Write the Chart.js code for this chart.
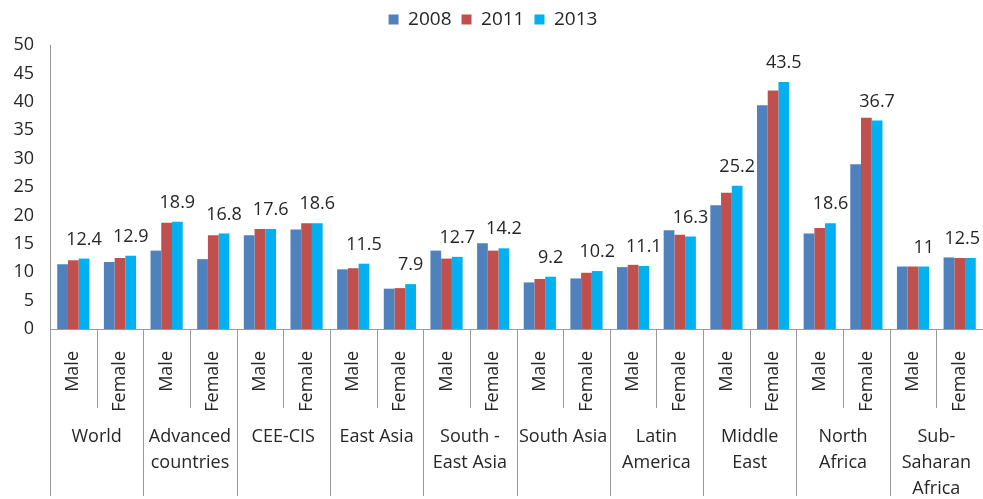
<!DOCTYPE html>
<html>
<head>
<meta charset="utf-8">
<script src="https://cdn.jsdelivr.net/npm/chart.js@4"></script>
<style>
  html, body { margin: 0; padding: 0; background: #fff; }
  #wrap { width: 983px; height: 499px; }
</style>
</head>
<body>
<div id="wrap"><canvas id="c" width="983" height="499"></canvas></div>
<script>
// categories: each region split into Male / Female
const regions = ['World', 'Advanced\ncountries', 'CEE-CIS', 'East Asia', 'South -\nEast Asia',
  'South Asia', 'Latin\nAmerica', 'Middle\nEast', 'North\nAfrica', 'Sub-\nSaharan\nAfrica'];
const sexes = ['Male', 'Female'];
const categories = regions.flatMap(() => sexes);

const years = ['2008', '2011', '2013'];
const values2008 = [11.4, 11.8, 13.8, 12.3, 16.5, 17.5, 10.5, 7.1, 13.8, 15.1,
  8.2, 8.9, 10.9, 17.4, 21.8, 39.4, 16.8, 29.0, 11.0, 12.6];
const values2011 = [12.1, 12.5, 18.7, 16.5, 17.6, 18.6, 10.7, 7.2, 12.4, 13.8,
  8.8, 9.9, 11.3, 16.6, 24.0, 42.0, 17.8, 37.2, 11.0, 12.5];
const values2013 = [12.4, 12.9, 18.9, 16.8, 17.6, 18.6, 11.5, 7.9, 12.7, 14.2,
  9.2, 10.2, 11.1, 16.3, 25.2, 43.5, 18.6, 36.7, 11.0, 12.5];

const colors = ['#4F81BD', '#C0504D', '#00B0F0'];
const FONT = '"Open Sans", sans-serif';
const TEXT = '#262626';
const AXIS = '#9a9a9a';

// value labels over the 2013 bars + two-level category axis
const extras = {
  id: 'extras',
  beforeLayout(chart) {
    // a bit more room under the legend
    const lg = chart.legend;
    if (lg && !lg._tall) {
      const fit = lg.fit;
      lg.fit = function () { fit.call(this); this.height += 6; };
      lg._tall = true;
    }
  },
  afterDatasetsDraw(chart) {
    const ctx = chart.ctx;
    const meta = chart.getDatasetMeta(2);
    ctx.save();
    ctx.font = '18px ' + FONT;
    ctx.fillStyle = TEXT;
    ctx.textAlign = 'center';
    ctx.textBaseline = 'bottom';
    meta.data.forEach((bar, i) => {
      const txt = String(values2013[i]);
      const w = ctx.measureText(txt).width;
      const lx = Math.min(bar.x, chart.width - w / 2 - 3);
      ctx.fillText(txt, lx, bar.y - 10);
    });
    ctx.restore();
  },
  afterDraw(chart) {
    const ctx = chart.ctx;
    const x = chart.scales.x;
    const bottom = chart.chartArea.bottom;
    const half = (x.getPixelForValue(1) - x.getPixelForValue(0)) / 2;
    ctx.save();
    ctx.strokeStyle = AXIS;
    ctx.lineWidth = 1;
    for (let i = 0; i < categories.length; i++) {
      const px = Math.round(x.getPixelForValue(i) - half) + 0.5;
      const len = i % 2 === 0 ? 167 : 79;
      ctx.beginPath();
      ctx.moveTo(px, bottom);
      ctx.lineTo(px, bottom + len);
      ctx.stroke();
    }
    ctx.font = '18px ' + FONT;
    ctx.fillStyle = TEXT;
    ctx.textAlign = 'center';
    ctx.textBaseline = 'middle';
    regions.forEach((r, k) => {
      const cx = (x.getPixelForValue(2 * k) + x.getPixelForValue(2 * k + 1)) / 2;
      r.split('\n').forEach((line, j) => {
        ctx.fillText(line, cx, bottom + 108 + j * 26);
      });
    });
    ctx.restore();
  }
};

new Chart(document.getElementById('c'), {
  type: 'bar',
  data: {
    labels: categories,
    datasets: years.map((y, i) => ({
      label: y,
      data: [values2008, values2011, values2013][i],
      backgroundColor: colors[i],
      borderWidth: 0,
      barPercentage: 1,
      categoryPercentage: 0.69
    }))
  },
  options: {
    responsive: false,
    animation: false,
    layout: { padding: { left: 0, right: -3, top: 0, bottom: 0 } },
    plugins: {
      legend: {
        position: 'top',
        labels: {
          font: { family: FONT, size: 19 },
          color: TEXT,
          boxWidth: 10,
          boxHeight: 10,
          padding: 10
        }
      },
      tooltip: { enabled: false }
    },
    scales: {
      x: {
        grid: { display: false },
        border: { color: AXIS },
        ticks: {
          font: { family: FONT, size: 18 },
          color: TEXT,
          minRotation: 90,
          maxRotation: 90,
          autoSkip: false,
          padding: 14
        },
        afterFit(scale) {
          scale.height = 170;
          scale.paddingLeft = 0;
          scale.paddingRight = 0;
        }
      },
      y: {
        min: 0,
        max: 50,
        grid: { display: false, drawTicks: false },
        border: { color: AXIS },
        ticks: {
          stepSize: 5,
          font: { family: FONT, size: 18 },
          color: TEXT,
          padding: 16
        },
        afterFit(scale) {
          scale.width = 50;
        }
      }
    }
  },
  plugins: [extras]
});
</script>
</body>
</html>
